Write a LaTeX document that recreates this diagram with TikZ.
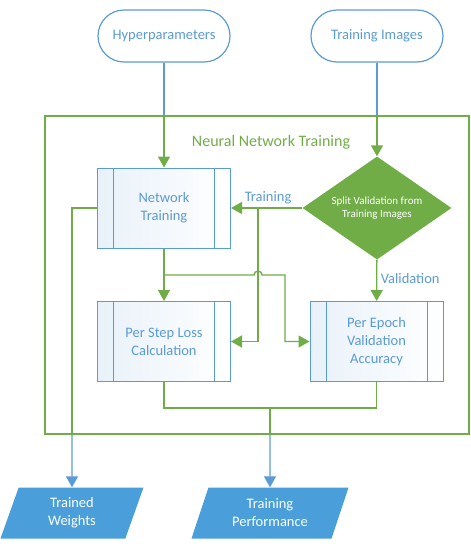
\documentclass[tikz,border=0pt]{standalone}
\usepackage{fontspec}
\setmainfont{Carlito}
\usetikzlibrary{arrows.meta,shapes.geometric}

\definecolor{flowblue}{HTML}{5B9BD5}
\definecolor{flowgreen}{HTML}{70AD47}
\definecolor{outblue}{HTML}{4A9FDA}

\tikzset{
  terminal/.style={draw=flowblue, line width=1.2pt, rounded corners=26pt,
    minimum width=132pt, minimum height=52pt, fill=white, text=flowblue,
    font=\fontsize{14.5}{18}\selectfont},
  process/.style={draw=flowblue, line width=1pt, left color=flowblue!14,
    right color=white, minimum width=133pt, minimum height=80pt,
    text=flowblue, align=center, font=\fontsize{14.5}{18}\selectfont,
    path picture={\draw[flowblue, line width=1pt]
      ([xshift=16pt]path picture bounding box.north west) --
      ([xshift=16pt]path picture bounding box.south west)
      ([xshift=-16pt]path picture bounding box.north east) --
      ([xshift=-16pt]path picture bounding box.south east);}},
  decision/.style={diamond, fill=flowgreen, aspect=1.45, minimum width=149pt,
    minimum height=103pt, inner sep=0pt, text=white, align=center,
    font=\fontsize{11}{13.5}\selectfont},
  output/.style={trapezium, trapezium left angle=64, trapezium right angle=116,
    trapezium stretches body, fill=outblue, minimum width=143pt,
    minimum height=51pt, text=white, align=center,
    font=\fontsize{14.5}{18}\selectfont},
  flow/.style={draw=flowgreen, line width=1.4pt},
  link/.style={draw=flowblue, line width=1.4pt},
  tag/.style={text=flowblue, font=\fontsize{14.5}{18}\selectfont}
}

\begin{document}
\begin{tikzpicture}[x=1pt,y=-1pt,>={Triangle[length=11pt,width=12pt]}]
	\useasboundingbox (0,0) rectangle (471,552);

	% container
	\node[draw=flowgreen, line width=1.4pt, minimum width=424pt, minimum height=318pt] (frame) at (257,275) {};
	\node[text=flowgreen, font=\fontsize{16}{19}\selectfont] (framelabel) at (271,142) {Neural Network Training};

	\node[terminal] (hyper) at (164,36) {Hyperparameters};
	\node[terminal] (images) at (377,36) {Training Images};
	\node[process] (nettrain) at (164,208) {Network\\Training};
	\node[decision] (split) at (377,208) {Split Validation from\\Training Images};
	\node[process] (steploss) at (164,341.5) {Per Step Loss\\Calculation};
	\node[process] (epochacc) at (376.5,341.5) {Per Epoch\\Validation\\Accuracy};
	\node[output] (weights) at (72,513) {Trained\\Weights};
	\node[output, minimum width=157pt] (perf) at (270,513) {Training\\Performance};

	\coordinate (tbranch) at (258,208);
	\coordinate (vsplit) at (164,275);
	\coordinate (hop) at (258,275);
	\coordinate (vbend) at (285,275);
	\coordinate (merge) at (270,408);
	\coordinate (wbend) at (72,208);

	% inputs
	\draw[link] (hyper) -- (hyper |- frame.north);
	\draw[flow,->] (hyper |- frame.north) -- (nettrain);
	\draw[link] (images) -- (images |- frame.north);
	\draw[flow,->] (images |- frame.north) -- (split);

	% inside the container
	\draw[flow,->] (split) -- node[tag, above, pos=0.48] {Training} (nettrain);
	\draw[flow,->] (tbranch) |- (steploss);
	\draw[flow,->] (split) -- node[tag, right, pos=0.45] {Validation} (epochacc);
	\draw[flow,->] (nettrain) -- (steploss);
	\draw[flow,->] (vsplit) -- ([xshift=-4pt]hop) arc[start angle=180, end angle=0, radius=4pt] -- (vbend) |- (epochacc);
	\draw[flow] (steploss) |- (merge) -| (epochacc);

	% outputs
	\draw[flow] (merge) -- (merge |- frame.south);
	\draw[link,->] (merge |- frame.south) -- (perf);
	\draw[flow] (nettrain) -- (wbend) -- (wbend |- frame.south);
	\draw[link,->] (wbend |- frame.south) -- (weights);
\end{tikzpicture}
\end{document}
